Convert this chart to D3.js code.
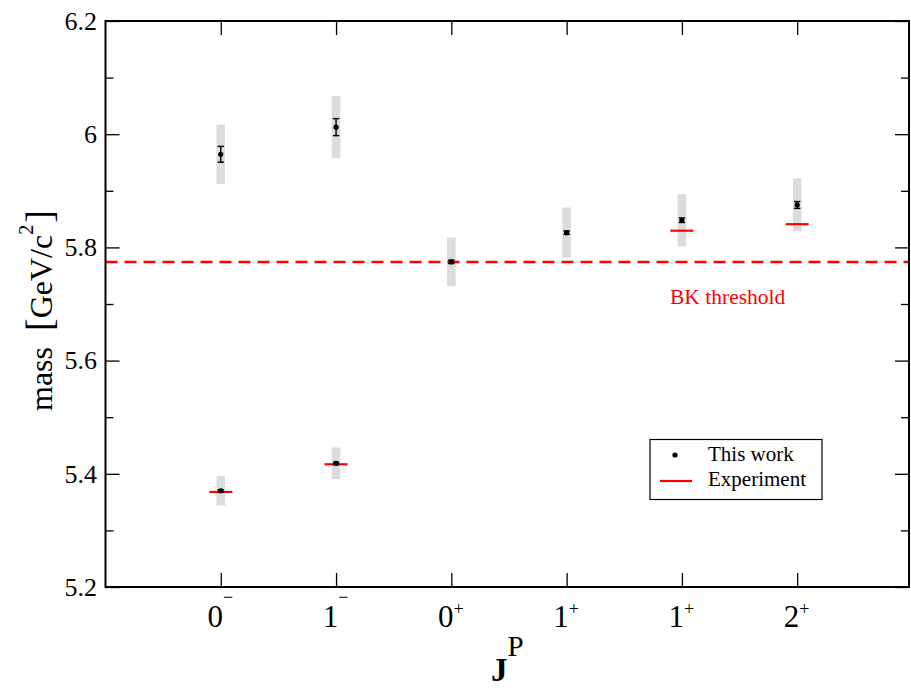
<!DOCTYPE html>
<html>
<head>
<meta charset="utf-8">
<script src="https://cdn.jsdelivr.net/npm/d3@7/dist/d3.min.js"></script>
<style>
  html, body { margin: 0; padding: 0; background: #fff; }
  svg { display: block; }
  text { font-family: "Liberation Serif", "DejaVu Serif", serif; }
</style>
</head>
<body>
<svg id="chart" width="911" height="688"></svg>
<script>
// ---- data ----
const catPos    = [1, 2, 3, 4, 5, 6];
const catSpin   = ["0", "1", "0", "1", "1", "2"];
const catParity = ["−", "−", "+", "+", "+", "+"];

// lattice results ("This work")
const workPos  = [1, 2, 1, 2, 3, 4, 5, 6];
const workMass = [5.370, 5.4185, 5.9645, 6.0125, 5.7745, 5.826, 5.848, 5.875];
const workStat = [0.002, 0.002, 0.014, 0.015, 0.003, 0.003, 0.004, 0.006];
const workSys  = [0.026, 0.028, 0.0525, 0.055, 0.043, 0.0445, 0.046, 0.047];

// experiment
const expPos  = [1, 2, 5, 6];
const expMass = [5.368, 5.4168, 5.8295, 5.841];

const bkThreshold = 5.774;

const yMajor = [5.2, 5.4, 5.6, 5.8, 6.0, 6.2];
const yMinor = [5.3, 5.5, 5.7, 5.9, 6.1];
const yTickLabels = ["5.2", "5.4", "5.6", "5.8", "6", "6.2"];

// ---- layout ----
const L = 105.5, R = 909, T = 21, B = 587;
const svg = d3.select("#chart");

const x = d3.scaleLinear().domain([0, 6.97]).range([L, R]);
const y = d3.scaleLinear().domain([5.2, 6.2]).range([B, T]);

// systematic bands
svg.append("g").selectAll("rect").data(workPos).join("rect")
  .attr("x", (d) => x(d) - 4.3)
  .attr("width", 8.6)
  .attr("y", (d, i) => y(workMass[i] + workSys[i]))
  .attr("height", (d, i) => y(workMass[i] - workSys[i]) - y(workMass[i] + workSys[i]))
  .attr("fill", "#dcdcdc");

// BK threshold
svg.append("line")
  .attr("x1", L).attr("x2", R)
  .attr("y1", y(bkThreshold)).attr("y2", y(bkThreshold))
  .attr("stroke", "#ff0000").attr("stroke-width", 2.5)
  .attr("stroke-dasharray", "12,7");

svg.append("text")
  .attr("x", 670).attr("y", 304)
  .attr("font-size", 21.5).attr("fill", "#ff0000")
  .text("BK threshold");

// experiment lines
svg.append("g").selectAll("line").data(expPos).join("line")
  .attr("x1", (d) => x(d) - 11.5).attr("x2", (d) => x(d) + 11.5)
  .attr("y1", (d, i) => y(expMass[i])).attr("y2", (d, i) => y(expMass[i]))
  .attr("stroke", "#ff0000").attr("stroke-width", 2.2);

// statistical error bars
const eb = svg.append("g").attr("stroke", "#000").attr("stroke-width", 1.4);
workPos.forEach((p, i) => {
  const cx = x(p), yt = y(workMass[i] + workStat[i]), yb = y(workMass[i] - workStat[i]);
  eb.append("line").attr("x1", cx).attr("x2", cx).attr("y1", yt).attr("y2", yb);
  eb.append("line").attr("x1", cx - 3.2).attr("x2", cx + 3.2).attr("y1", yt).attr("y2", yt);
  eb.append("line").attr("x1", cx - 3.2).attr("x2", cx + 3.2).attr("y1", yb).attr("y2", yb);
});

// points
svg.append("g").selectAll("circle").data(workPos).join("circle")
  .attr("cx", (d) => x(d))
  .attr("cy", (d, i) => y(workMass[i]))
  .attr("r", 2.6)
  .attr("fill", "#000");

// ---- axes ----
function styleAxis(g) {
  g.select(".domain").remove();
  g.selectAll(".tick line").attr("stroke", "#000").attr("stroke-width", 1.3);
  g.selectAll(".tick text").remove();
}

svg.append("g").attr("transform", `translate(${L},0)`)
  .call(d3.axisLeft(y).tickValues(yMajor).tickSize(-14))
  .call(styleAxis);

svg.append("g").attr("transform", `translate(${L},0)`)
  .call(d3.axisLeft(y).tickValues(yMinor).tickSize(-8))
  .call(styleAxis);

svg.append("g").attr("transform", `translate(${R},0)`)
  .call(d3.axisRight(y).tickValues(yMajor).tickSize(-14))
  .call(styleAxis);
svg.append("g").attr("transform", `translate(${R},0)`)
  .call(d3.axisRight(y).tickValues(yMinor).tickSize(-8))
  .call(styleAxis);

svg.append("g").attr("transform", `translate(0,${B})`)
  .call(d3.axisBottom(x).tickValues(catPos).tickSize(-14))
  .call(styleAxis);
svg.append("g").attr("transform", `translate(0,${T})`)
  .call(d3.axisTop(x).tickValues(catPos).tickSize(-14))
  .call(styleAxis);

// y tick labels (serif)
svg.append("g").selectAll("text").data(yMajor).join("text")
  .attr("x", L - 8.5)
  .attr("y", (d) => y(d))
  .attr("dy", "0.34em")
  .attr("text-anchor", "end")
  .attr("font-size", 26)
  .attr("fill", "#000")
  .text((d, i) => yTickLabels[i]);

// frame
svg.append("rect")
  .attr("x", L).attr("y", T).attr("width", R - L).attr("height", B - T)
  .attr("fill", "none").attr("stroke", "#000").attr("stroke-width", 2);

// x tick labels with parity superscripts
catPos.forEach((p, i) => {
  const t = svg.append("text")
    .attr("x", x(p) - 0.5).attr("y", 627)
    .attr("text-anchor", "middle")
    .attr("fill", "#000");
  t.append("tspan").attr("font-size", 31).text(catSpin[i]);
  const minus = catParity[i] === "−";
  t.append("tspan").attr("font-size", 18)
    .attr("dy", minus ? -24 : -12)
    .text(catParity[i]);
});

// x axis title J^P
const xt = svg.append("text").attr("x", 491).attr("y", 681).attr("fill", "#000");
xt.append("tspan").attr("font-size", 33).attr("font-weight", "bold").text("J");
xt.append("tspan").attr("font-size", 29).attr("dy", -25).text("P");

// y axis title
const yt = svg.append("text")
  .attr("transform", "translate(52,411) rotate(-90)")
  .attr("fill", "#000");
yt.append("tspan").attr("font-size", 32).text("mass ");
yt.append("tspan").attr("font-size", 38).attr("dx", 8).text("[");
yt.append("tspan").attr("font-size", 32).text("GeV/c");
yt.append("tspan").attr("font-size", 20).attr("dy", -19).text("2");
yt.append("tspan").attr("font-size", 38).attr("dx", 2).attr("dy", 19).text("]");

// legend
const lg = svg.append("g");
lg.append("rect").attr("x", 650).attr("y", 439.5).attr("width", 172).attr("height", 60)
  .attr("fill", "#fff").attr("stroke", "#000").attr("stroke-width", 1.2);
lg.append("circle").attr("cx", 675).attr("cy", 455).attr("r", 2.6).attr("fill", "#000");
lg.append("line").attr("x1", 660).attr("x2", 692).attr("y1", 481).attr("y2", 481)
  .attr("stroke", "#ff0000").attr("stroke-width", 2.2);
lg.append("text").attr("x", 708).attr("y", 461).attr("font-size", 21).attr("fill", "#000").text("This work");
lg.append("text").attr("x", 708).attr("y", 486).attr("font-size", 21).attr("fill", "#000").text("Experiment");
</script>
</body>
</html>
